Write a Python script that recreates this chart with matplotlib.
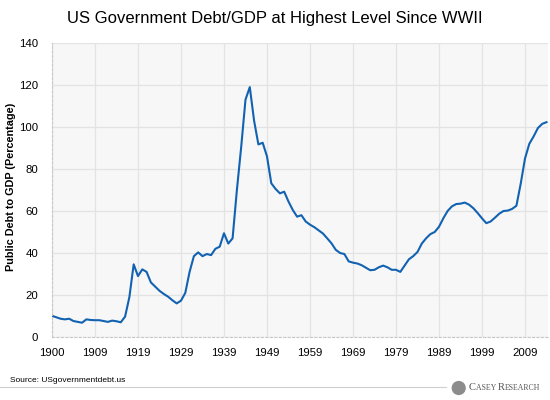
import numpy as np
import matplotlib
matplotlib.use('Agg')
import matplotlib.pyplot as plt
from matplotlib.patches import Ellipse

# Debt/GDP values, one per year of the category axis
debt = [10.1, 9.4, 8.7, 8.4, 8.7, 7.6, 7.2, 6.8, 8.4, 8.1,
        8.0, 8.0, 7.6, 7.2, 7.8, 7.5, 7.0, 9.7, 19.0, 34.6,
        29.0, 32.2, 31.0, 26.0, 24.0, 22.0, 20.5, 19.2, 17.5, 16.0,
        17.3, 21.0, 31.0, 38.5, 40.3, 38.5, 39.5, 39.0, 42.0, 43.0,
        49.4, 44.5, 47.0, 70.0, 90.5, 113.0, 119.0, 103.0, 91.7, 92.5,
        86.0, 73.2, 70.5, 68.4, 69.2, 64.5, 60.5, 57.3, 58.0, 55.0,
        53.5, 52.3, 50.8, 49.3, 47.0, 44.6, 41.5, 40.0, 39.5, 36.0,
        35.4, 35.0, 34.2, 33.0, 31.8, 32.0, 33.2, 34.0, 33.2, 32.0,
        32.0, 31.0, 34.0, 37.0, 38.5, 40.5, 44.5, 47.0, 49.0, 50.0,
        52.5, 56.5, 60.0, 62.2, 63.3, 63.5, 64.0, 63.0, 61.3, 59.0,
        56.5, 54.2, 55.0, 56.8, 58.7, 60.0, 60.2, 61.0, 62.5, 73.0,
        85.0, 92.0, 95.5, 99.5, 101.5, 102.3]
tick_labels = ['1900', '1909', '1919', '1929', '1939', '1949',
               '1959', '1969', '1979', '1989', '1999', '2009']
y_ticks = [0, 20, 40, 60, 80, 100, 120, 140]

plt.rcParams['font.family'] = ['Liberation Sans', 'DejaVu Sans']

fig = plt.figure(figsize=(5.5, 4.0), dpi=100)
ax = fig.add_axes([0.0945, 0.1575, 0.9015, 0.735])
ax.set_facecolor('#f7f7f7')

x = np.arange(len(debt))
ax.plot(x, debt, color='#1262b2', lw=1.5, solid_joinstyle='round')

ax.set_xlim(0, 115.3)
ax.set_ylim(0, 140)
ax.set_xticks(np.arange(len(tick_labels)) * 10)
ax.set_xticklabels(tick_labels)
ax.set_yticks(y_ticks)
ax.tick_params(length=0, labelsize=8.2, colors='black')
ax.tick_params(axis='x', pad=8)
ax.tick_params(axis='y', pad=10)
ax.grid(True, color='#e3e3e3', lw=0.9)
ax.set_axisbelow(True)
for s in ['top', 'right']:
    ax.spines[s].set_visible(False)
for s in ['left', 'bottom']:
    ax.spines[s].set_color('#c8c8c8')
    ax.spines[s].set_linestyle((0, (2, 2)))
    ax.spines[s].set_linewidth(0.8)

ax.set_ylabel('Public Debt to GDP (Percentage)', fontsize=7.8,
              fontweight='bold')
ax.yaxis.set_label_coords(-0.0735, 0.51)

fig.text(0.5, 0.953, 'US Government Debt/GDP at Highest Level Since WWII',
         ha='center', va='center', fontsize=12)

fig.text(0.018, 0.048, 'Source: USgovernmentdebt.us', fontsize=6,
         ha='left', va='center')
fig.add_artist(plt.Line2D([0.0, 0.81], [0.032, 0.032], color='#cfcfcf',
                          lw=0.8, transform=fig.transFigure))
# round logo mark (width scaled so it stays round on a 550x400 figure)
fig.add_artist(Ellipse((0.834, 0.03), 0.032 * 400 / 550, 0.032,
                       transform=fig.transFigure, color='#8c8c8c'))

# Logo text in small caps
serif = 'Liberation Serif'
t = fig.text(0.852, 0.02, 'C', fontsize=7.6, color='#555555',
             ha='left', va='bottom', family=serif)
parts = [('ASEY ', 5.6), ('R', 7.6), ('ESEARCH', 5.6)]
for s, fs in parts:
    t = ax.annotate(s, xy=(1, 0), xycoords=t, fontsize=fs, color='#555555',
                    ha='left', va='bottom', family=serif,
                    annotation_clip=False)

fig.savefig('out.png', dpi=100)
